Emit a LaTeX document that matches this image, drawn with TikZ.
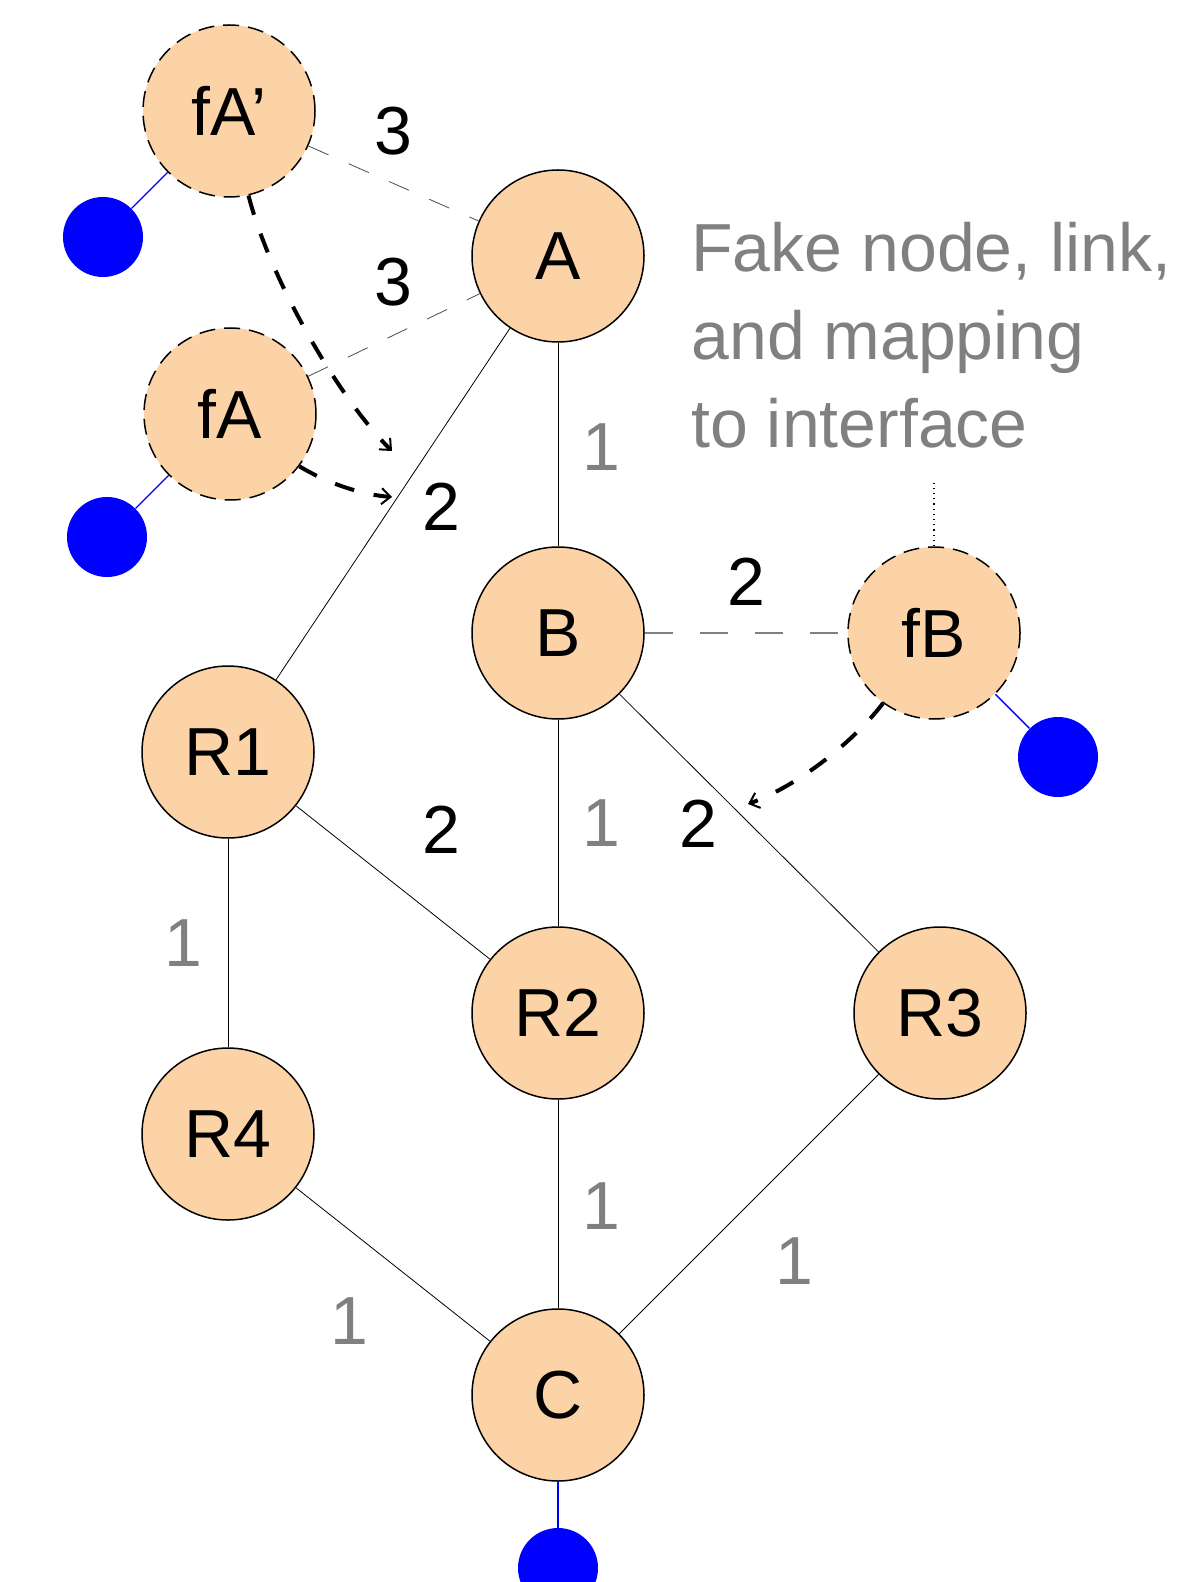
\documentclass[tikz,border=0pt]{standalone}
\usepackage{fontspec}
\setmainfont{Liberation Sans}
\usetikzlibrary{arrows.meta}
\definecolor{routerfill}{HTML}{FCD3A6}
\definecolor{ifblue}{HTML}{0000FF}
\definecolor{costgray}{HTML}{808080}
\newcommand{\bigfont}{\fontsize{34}{44}\selectfont}

\begin{document}
\begin{tikzpicture}[
    x=0.5pt, y=-0.5pt,
    router/.style={
        circle, draw=black, line width=0.75pt, fill=routerfill,
        minimum size=86pt, inner sep=0pt, font=\bigfont
    },
    fakerouter/.style={router, dash pattern=on 8pt off 4.5pt},
    iface/.style={circle, fill=ifblue, minimum size=40pt, inner sep=0pt},
    ifline/.style={draw=ifblue, line width=0.7pt},
    link/.style={draw=black, line width=0.4pt},
    fakelink/.style={draw=black!70, line width=0.4pt, dash pattern=on 11pt off 11pt},
    fakelinkB/.style={draw=costgray, line width=0.6pt, dash pattern=on 14pt off 13.5pt},
    mapping/.style={
        -{Straight Barb[length=4.5pt, width=8pt, line width=1pt]},
        line width=2pt, dash pattern=on 10pt off 10pt
    },
    cost/.style={font=\bigfont, inner sep=0pt},
    hopcost/.style={cost, text=costgray}
]
\useasboundingbox (0,0) rectangle (1179,1582);

% routers
\node[router] (A)  at (558,256)  {A};
\node[router] (B)  at (558,633)  {B};
\node[router] (R1) at (228,752)  {R1};
\node[router] (R2) at (558,1013) {R2};
\node[router] (R3) at (940,1013) {R3};
\node[router] (R4) at (228,1134) {R4};
\node[router] (C)  at (558,1395) {C};

% fake nodes
\node[fakerouter] (fAp) at (229,111) {fA’};
\node[fakerouter] (fA)  at (230,414) {fA};
\node[fakerouter] (fB)  at (934,633) {fB};

% interfaces
\node[iface] (ifAp) at (103,237)  {};
\node[iface] (ifA)  at (107,537)  {};
\node[iface] (ifB)  at (1058,757) {};
\node[iface] (ifC)  at (558,1568) {};

\draw[ifline] (fAp) -- (ifAp);
\draw[ifline] (fA) -- (ifA);
\draw[ifline] (fB) -- (ifB);
\draw[ifline] (C) -- (ifC);

% real links
\draw[link] (A) -- (B);
\draw[link] (A) -- (R1);
\draw[link] (B) -- (R2);
\draw[link] (B) -- (R3);
\draw[link] (R1) -- (R2);
\draw[link] (R1) -- (R4);
\draw[link] (R2) -- (C);
\draw[link] (R3) -- (C);
\draw[link] (R4) -- (C);

% fake links
\draw[fakelink] (fAp) -- (A);
\draw[fakelink] (fA) -- (A);
\draw[fakelinkB] (B) -- (fB);

% link costs
\node[cost] (cAp)  at (393,131)  {3};
\node[cost] (cA)   at (393,282)  {3};
\node[cost] (cAR1) at (441,507)  {2};
\node[cost] (cBfB) at (746,582)  {2};
\node[cost] (cR1R2) at (441,830) {2};
\node[cost] (cBR3) at (698,824)  {2};
\node[hopcost] (cAB)  at (601,447)  {1};
\node[hopcost] (cBR2) at (601,823)  {1};
\node[hopcost] (cR1R4) at (183,943) {1};
\node[hopcost] (cR2C) at (601,1206) {1};
\node[hopcost] (cR3C) at (794,1261) {1};
\node[hopcost] (cR4C) at (349,1321) {1};

% mapping of fake links onto interfaces
\draw[mapping] (fAp.-77) .. controls (270,280) and (340,400) .. (392,451);
\draw[mapping] (fA.-37) .. controls (330,485) and (365,495) .. (392,497);
\draw[mapping] (fB.234) .. controls (855,740) and (800,785) .. (748,804);

% note
\node[font=\bigfont, text=costgray, align=left, anchor=north west, inner sep=0pt]
    (note) at (691,222) {Fake node, link,\\and mapping\\to interface};
\coordinate (noteend) at (934,479);
\draw[dotted, line width=0.6pt] (fB) -- (noteend);
\end{tikzpicture}
\end{document}
